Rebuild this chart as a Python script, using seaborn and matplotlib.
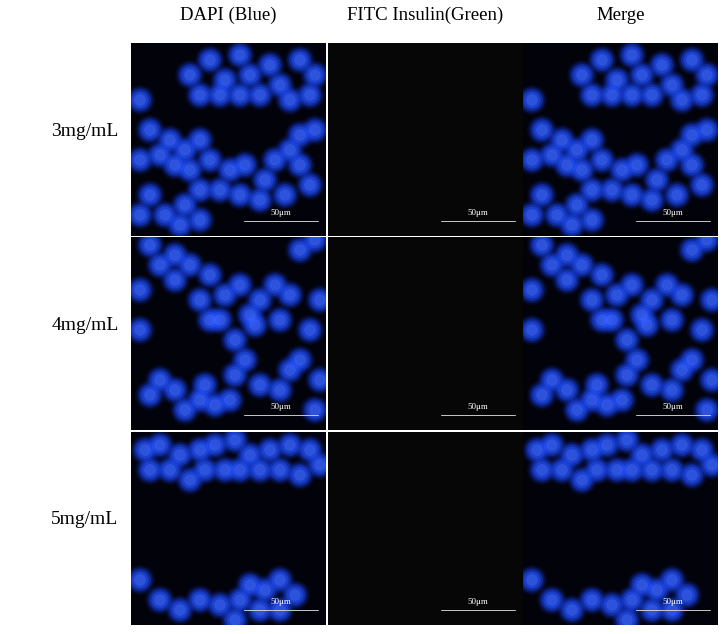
import numpy as np
import pandas as pd
import seaborn as sns
import matplotlib.pyplot as plt

sns.set_theme(style="white")
plt.rcParams['font.family'] = ['Liberation Serif', 'DejaVu Serif']

col_titles = ['DAPI (Blue)', 'FITC Insulin(Green)', 'Merge']
row_titles = ['3mg/mL', '4mg/mL', '5mg/mL']
scale_label = '50\u03bcm'

# approximate nucleus centres per row, panel-local pixels (x right, y down)
cells_3 = [(79,17),(109,12),(59,32),(94,37),(119,32),(139,22),(149,42),(129,52),(109,52),(89,52),(69,52),
           (169,17),(184,32),(179,52),(159,57),(9,57),(19,87),(39,97),(29,112),(54,107),(69,97),(44,122),
           (59,127),(79,117),(99,127),(114,122),(134,137),(144,117),(159,107),(169,92),(184,87),(169,122),
           (179,142),(154,152),(129,157),(109,152),(89,147),(69,147),(54,162),(34,172),(19,152),(9,172),
           (49,182),(69,177),(9,117)]
cells_4 = [(19,8),(29,28),(44,18),(59,28),(44,43),(9,53),(79,38),(94,58),(109,48),(129,63),(144,48),
           (159,58),(119,78),(89,83),(69,63),(79,83),(104,103),(124,88),(149,83),(169,13),(184,3),(189,63),
           (179,93),(169,123),(189,143),(159,133),(149,153),(129,148),(114,123),(104,138),(99,163),(84,168),
           (69,163),(74,148),(29,143),(44,153),(54,173),(19,158),(184,173),(9,93)]
cells_5 = [(14,18),(29,13),(49,23),(69,18),(84,13),(104,8),(119,23),(139,18),(159,13),(179,18),(189,33),
           (74,38),(94,38),(109,38),(129,38),(149,38),(169,43),(59,48),(39,38),(19,38),(9,148),(29,168),
           (49,178),(69,168),(89,173),(109,168),(119,153),(134,158),(149,148),(164,163),(129,178),(149,178),
           (104,188)]
cell_sets = [cells_3, cells_4, cells_5]

W, H = 722, 634
col_x = [131, 328, 523]
row_y = [43, 237, 432]
pw, ph = 195, 193

fig = plt.figure(figsize=(W / 100, H / 100), dpi=100)
fig.patch.set_facecolor('white')

# soft glow: stacked translucent discs, large and dim to small and bright
glow = [(460, '#0a1f80', 0.25), (340, '#1234c0', 0.35), (240, '#1a45e8', 0.45),
        (150, '#2a58ff', 0.45), (70, '#4a72ff', 0.4)]

for r, cells in enumerate(cell_sets):
    df = pd.DataFrame(cells, columns=['x', 'y'])
    for c in range(3):
        ax = fig.add_axes([col_x[c] / W, 1 - (row_y[r] + ph) / H, pw / W, ph / H])
        ax.set_facecolor('#02020a' if c != 1 else '#060606')
        if c != 1:
            for s, col, a in glow:
                sns.scatterplot(data=df, x='x', y='y', ax=ax, s=s, color=col, alpha=a,
                                linewidth=0, edgecolor='none', legend=False)
        ax.plot([113, 187], [178, 178], color='#c8c8c8', lw=0.7)
        ax.text(150, 174, scale_label, color='white', fontsize=6.5, ha='center', va='bottom')
        ax.set_xlim(0, pw)
        ax.set_ylim(ph, 0)
        ax.set_xticks([])
        ax.set_yticks([])
        ax.set_xlabel('')
        ax.set_ylabel('')
        for s in ax.spines.values():
            s.set_visible(False)
    fig.text(85 / W, 1 - (row_y[r] + 88) / H, row_titles[r], fontsize=14, color='black',
             ha='center', va='center')

for c in range(3):
    fig.text((col_x[c] + pw / 2) / W, 1 - 15 / H, col_titles[c], fontsize=13.5, color='black',
             ha='center', va='center')

fig.savefig('out.png', dpi=100, facecolor='white')
